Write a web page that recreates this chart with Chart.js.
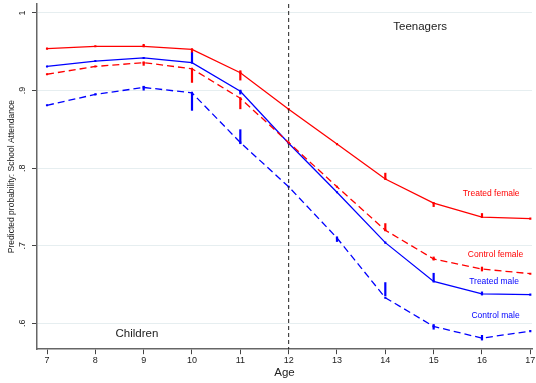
<!DOCTYPE html>
<html>
<head>
<meta charset="utf-8">
<script src="https://cdn.jsdelivr.net/npm/chart.js@4.4.1/dist/chart.umd.min.js"></script>
<style>
  html, body { margin: 0; padding: 0; background: #fff; }
  #wrap { width: 536px; height: 383px; }
</style>
</head>
<body>
<div id="wrap"><canvas id="myChart"></canvas></div>
<script>
var ages = [7, 8, 9, 10, 11, 12, 13, 14, 15, 16, 17];
var yTicks = [0.6, 0.7, 0.8, 0.9, 1.0];

var treatedFemale = [0.954, 0.957, 0.957, 0.953, 0.923, 0.876, 0.831, 0.786, 0.755, 0.737, 0.735];
var controlFemale = [0.921, 0.931, 0.936, 0.928, 0.890, 0.833, 0.776, 0.720, 0.683, 0.670, 0.664];
var treatedMale   = [0.931, 0.938, 0.942, 0.936, 0.899, 0.832, 0.769, 0.704, 0.654, 0.638, 0.637];
var controlMale   = [0.881, 0.895, 0.904, 0.897, 0.833, 0.776, 0.710, 0.633, 0.596, 0.581, 0.590];

// intervals [low, high] shown as short vertical bars, null where none
var treatedFemaleCI = [null, null, [0.956, 0.960], [0.948, 0.953], [0.913, 0.926], null, null, [0.786, 0.794], [0.750, 0.755], [0.736, 0.742], null];
var controlFemaleCI = [null, null, [0.932, 0.937], [0.910, 0.928], [0.876, 0.890], null, null, [0.719, 0.729], [0.681, 0.686], [0.667, 0.673], null];
var treatedMaleCI   = [null, null, null, [0.936, 0.949], [0.895, 0.901], null, null, null, [0.654, 0.665], [0.636, 0.641], null];
var controlMaleCI   = [null, null, [0.900, 0.906], [0.874, 0.897], [0.831, 0.850], null, [0.705, 0.712], [0.635, 0.653], [0.592, 0.599], [0.578, 0.585], null];

function pts(vals) {
    return vals.map(function (v, i) { return { x: ages[i], y: v }; });
}

var ctx = document.getElementById("myChart");

const extras = {
    id: 'extras',
    afterDatasetsDraw: function (chart) {
        const c = chart.ctx;
        const xs = chart.scales.x, ys = chart.scales.y;
        const area = chart.chartArea;
        // interval bars
        chart.data.datasets.forEach(function (ds) {
            c.save();
            c.strokeStyle = ds.borderColor;
            c.lineWidth = 2.2;
            ds.ci.forEach(function (r, i) {
                if (!r) return;
                const px = xs.getPixelForValue(ages[i]);
                c.beginPath();
                c.moveTo(px, ys.getPixelForValue(r[0]));
                c.lineTo(px, ys.getPixelForValue(r[1]));
                c.stroke();
            });
            c.restore();
        });
        // age 12 cut line
        const x12 = xs.getPixelForValue(12);
        c.save();
        c.strokeStyle = '#222';
        c.lineWidth = 1;
        c.setLineDash([4, 3]);
        c.beginPath();
        c.moveTo(x12, area.top);
        c.lineTo(x12, area.bottom);
        c.stroke();
        c.restore();
        // texts
        c.save();
        c.font = '11.5px "Liberation Sans", Arial, sans-serif';
        c.fillStyle = '#222';
        c.textAlign = 'center';
        c.textBaseline = 'middle';
        c.fillText('Teenagers', xs.getPixelForValue(14.72), ys.getPixelForValue(0.982));
        c.fillText('Children', xs.getPixelForValue(8.86), ys.getPixelForValue(0.586));
        c.font = '8.5px "Liberation Sans", Arial, sans-serif';
        c.fillStyle = '#ff0000';
        c.fillText('Treated female', xs.getPixelForValue(16.19), ys.getPixelForValue(0.767));
        c.fillText('Control female', xs.getPixelForValue(16.28), ys.getPixelForValue(0.688));
        c.fillStyle = '#0000ff';
        c.fillText('Treated male', xs.getPixelForValue(16.25), ys.getPixelForValue(0.654));
        c.fillText('Control male', xs.getPixelForValue(16.28), ys.getPixelForValue(0.610));
        c.restore();
    }
};

function mk(label, vals, ci, color, dashed) {
    return {
        label: label,
        data: pts(vals),
        ci: ci,
        borderColor: color,
        backgroundColor: color,
        borderWidth: 1.3,
        borderDash: dashed ? [7, 4] : [],
        pointStyle: 'rect',
        pointRadius: 1.5,
        pointBorderWidth: 0,
        tension: 0
    };
}

var myChart = new Chart(ctx, {
    type: 'line',
    data: {
        datasets: [
            mk('Treated female', treatedFemale, treatedFemaleCI, '#ff0000', false),
            mk('Control female', controlFemale, controlFemaleCI, '#ff0000', true),
            mk('Treated male', treatedMale, treatedMaleCI, '#0000ff', false),
            mk('Control male', controlMale, controlMaleCI, '#0000ff', true)
        ]
    },
    options: {
        responsive: true,
        maintainAspectRatio: false,
        animation: false,
        layout: { padding: { top: 3, right: 0, left: 7, bottom: 4.5 } },
        plugins: { legend: { display: false }, tooltip: { enabled: false } },
        scales: {
            x: {
                type: 'linear',
                min: 6.793,
                max: 17.035,
                afterBuildTicks: function (axis) { axis.ticks = ages.map(function (v) { return { value: v }; }); },
                afterFit: function (axis) { axis.paddingRight = 0; axis.paddingLeft = 0; },
                ticks: { font: { size: 9, family: '"Liberation Sans", Arial' }, color: '#222', padding: 1, maxRotation: 0 },
                grid: { drawOnChartArea: false, drawTicks: true, tickLength: 5, tickColor: '#444' },
                border: { color: '#666', width: 1.5 },
                title: { display: true, text: 'Age', font: { size: 11.5, family: '"Liberation Sans", Arial', lineHeight: 1 }, color: '#222', padding: { top: 0, bottom: 0 } }
            },
            y: {
                min: 0.5667,
                max: 1.0115,
                afterBuildTicks: function (axis) { axis.ticks = yTicks.map(function (v) { return { value: v }; }); },
                afterFit: function (axis) { axis.paddingTop = 0; axis.paddingBottom = 0; axis.width = 30; },
                ticks: {
                    font: { size: 9, family: '"Liberation Sans", Arial' },
                    color: '#222',
                    padding: 6,
                    crossAlign: 'center',
                    minRotation: 90,
                    maxRotation: 90,
                    callback: function (v) { return v >= 1 ? '1' : String(Math.round(v * 10) / 10).replace(/^0/, ''); }
                },
                grid: { color: '#e6eef0', lineWidth: 1, tickLength: 5, tickColor: '#444' },
                border: { color: '#666', width: 1.5 },
                title: { display: true, text: 'Predicted probability: School Attendance', font: { size: 8.5, family: '"Liberation Sans", Arial' }, color: '#222', padding: { top: 0, bottom: 0 } }
            }
        }
    },
    plugins: [extras]
});
</script>
</body>
</html>
